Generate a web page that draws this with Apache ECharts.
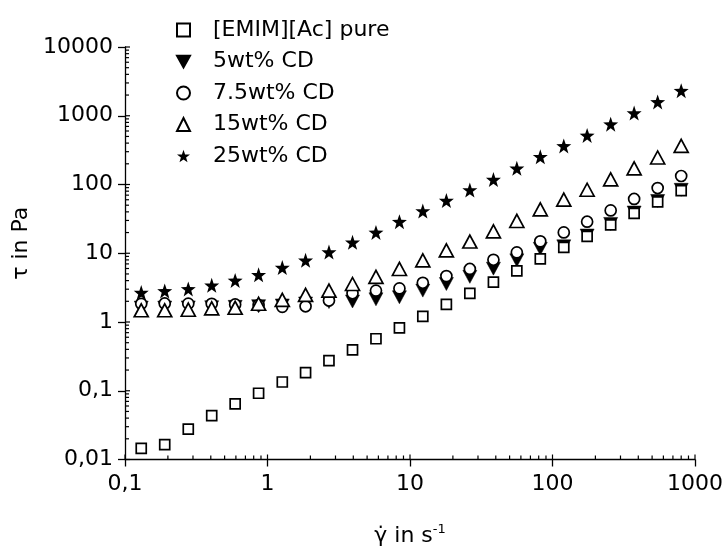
<!DOCTYPE html>
<html>
<head>
<meta charset="utf-8">
<script src="https://cdn.jsdelivr.net/npm/echarts@6/dist/echarts.min.js"></script>
<style>
html,body{margin:0;padding:0;background:#fff;}
#chart{width:727px;height:552px;}
</style>
</head>
<body>
<div id="chart"></div>
<script>
// shear rate (1/s)
const shearRate = [0.130, 0.190, 0.278, 0.406, 0.593, 0.866, 1.27, 1.85, 2.70, 3.95, 5.77, 8.43,
  12.3, 18.0, 26.3, 38.5, 56.2, 82.1, 120, 175, 256, 374, 547, 800];
// shear stress (Pa) per sample
const pureValues = [0.0145, 0.0165, 0.0277, 0.0435, 0.0646, 0.092, 0.134, 0.184, 0.274, 0.394, 0.571, 0.822,
  1.21, 1.80, 2.61, 3.81, 5.53, 8.31, 12.2, 17.6, 25.9, 38.0, 55.9, 81.3];
const cd5Values = [1.62, 1.62, 1.63, 1.64, 1.66, 1.70, 1.74, 1.86, 1.95, 1.99, 2.14, 2.29,
  2.86, 3.57, 4.54, 5.97, 7.89, 11.6, 12.6, 18.1, 26.7, 39.1, 57.6, 83.7];
const cd75Values = [1.84, 1.86, 1.85, 1.84, 1.80, 1.76, 1.66, 1.69, 2.05, 2.62, 2.86, 3.08,
  3.72, 4.65, 5.91, 8.03, 10.3, 14.9, 20.1, 28.8, 42.0, 61.7, 88.7, 133];
const cd15Values = [1.48, 1.48, 1.51, 1.58, 1.61, 1.84, 2.10, 2.48, 2.86, 3.57, 4.54, 5.91,
  7.89, 11.0, 14.8, 20.8, 29.5, 43.4, 60.3, 83.9, 119, 172, 247, 364];
const cd25Values = [2.68, 2.83, 3.03, 3.41, 4.02, 4.85, 6.18, 7.89, 10.4, 14.4, 20.1, 28.8,
  41.1, 58.3, 83.1, 118, 172, 253, 364, 517, 753, 1094, 1589, 2312];

const seriesNames = ['[EMIM][Ac] pure', '5wt% CD', '7.5wt% CD', '15wt% CD', '25wt% CD'];

const xTickValues = [0.1, 1, 10, 100, 1000];
const xTickLabels = ['0,1', '1', '10', '100', '1000'];
const yTickValues = [0.01, 0.1, 1, 10, 100, 1000, 10000];
const yTickLabels = ['0,01', '0,1', '1', '10', '100', '1000', '10000'];
const minorMultipliers = [2, 3, 4, 5, 6, 7, 8, 9];

function labelFor(values, labels) {
  return function (v) {
    for (let i = 0; i < values.length; i++) {
      if (Math.abs(Math.log10(values[i]) - Math.log10(v)) < 1e-6) return labels[i];
    }
    return '';
  };
}

// tick positions (axis decoration)
const xMinor = [];
xTickValues.slice(0, -1).forEach(d => minorMultipliers.forEach(m => xMinor.push([d * m, 0.01, 4])));
xTickValues.forEach(d => xMinor.push([d, 0.01, 5]));
const yMinor = [];
yTickValues.slice(0, -1).forEach(d => minorMultipliers.forEach(m => yMinor.push([0.1, d * m, 4])));
yTickValues.forEach(d => yMinor.push([0.1, d, 5]));

const FONT = 'DejaVu Sans';
const openStyle = {color: '#ffffff', borderColor: '#000', borderWidth: 1.7, opacity: 1};
const STAR = 'path://M0,-100L23.5,-32.4L95.1,-30.9L38,12.4L58.8,80.9L0,40L-58.8,80.9L-38,12.4L-95.1,-30.9L-23.5,-32.4Z';
const DOWN_TRI = 'path://M0,0L100,0L50,90Z';

function pairs(vals) { return shearRate.map((x, i) => [x, vals[i]]); }

const chart = echarts.init(document.getElementById('chart'), null, {renderer: 'canvas'});
chart.setOption({
  animation: false,
  backgroundColor: '#fff',
  grid: {left: 125, right: 32, top: 47, bottom: 86, containLabel: false},
  legend: {
    orient: 'vertical', left: 171, top: 14, itemWidth: 13, itemHeight: 13, itemGap: 9.5,
    data: [
      {name: seriesNames[0]},
      {name: seriesNames[1], icon: DOWN_TRI},
      {name: seriesNames[2]},
      {name: seriesNames[3]},
      {name: seriesNames[4]}
    ],
    textStyle: {fontSize: 22, fontFamily: FONT, color: '#000', padding: [0, 0, 0, 18]},
    selectedMode: false
  },
  xAxis: {
    type: 'log', logBase: 10, min: 0.1, max: 1000,
    axisLine: {show: true, onZero: false, lineStyle: {color: '#000', width: 1.3}},
    axisTick: {show: true, length: 7, lineStyle: {color: '#000', width: 1.3}},
    splitLine: {show: false},
    axisLabel: {margin: 14, fontSize: 22, fontFamily: FONT, color: '#000', formatter: labelFor(xTickValues, xTickLabels)},
    name: 'γ\u0307 in s{sup|-1}', nameLocation: 'middle', nameGap: 64,
    nameTextStyle: {fontSize: 22, fontFamily: FONT, color: '#000',
      rich: {sup: {fontSize: 13, fontFamily: FONT, color: '#000', verticalAlign: 'top', padding: [0, 0, 12, 0]}}}
  },
  yAxis: {
    type: 'log', logBase: 10, min: 0.01, max: 10000,
    axisLine: {show: true, onZero: false, lineStyle: {color: '#000', width: 1.3}},
    axisTick: {show: true, length: 7, lineStyle: {color: '#000', width: 1.3}},
    splitLine: {show: false},
    axisLabel: {margin: 12, fontSize: 22, fontFamily: FONT, color: '#000', formatter: labelFor(yTickValues, yTickLabels)},
    name: 'τ in Pa', nameLocation: 'middle', nameGap: 82,
    nameTextStyle: {fontSize: 22, fontFamily: FONT, color: '#000', padding: [0, 0, 0, 20]}
  },
  series: [
    {
      name: seriesNames[1], type: 'scatter', data: pairs(cd5Values), symbol: 'triangle', symbolRotate: 180,
      symbolSize: [14, 13], itemStyle: {color: '#000', borderColor: '#000', borderWidth: 0.5, opacity: 1}, z: 2
    },
    {
      name: seriesNames[0], type: 'scatter', data: pairs(pureValues), symbol: 'rect',
      symbolSize: 10, itemStyle: openStyle, z: 3
    },
    {
      name: seriesNames[2], type: 'scatter', data: pairs(cd75Values), symbol: 'circle',
      symbolSize: 11, itemStyle: openStyle, z: 4
    },
    {
      name: seriesNames[3], type: 'scatter', data: pairs(cd15Values), symbol: 'triangle',
      symbolSize: [14, 13], itemStyle: openStyle, z: 5
    },
    {
      name: seriesNames[4], type: 'scatter', data: pairs(cd25Values), symbol: STAR,
      symbolSize: 15, itemStyle: {color: '#000', opacity: 1}, z: 6
    },
    {
      type: 'custom', silent: true, z: 10, clip: false, data: xMinor,
      renderItem: function (params, api) {
        const p = api.coord([api.value(0), api.value(1)]);
        const len = api.value(2);
        return {type: 'line', shape: {x1: p[0], y1: p[1], x2: p[0], y2: p[1] - len}, style: {stroke: '#000', lineWidth: 1.2}};
      }
    },
    {
      type: 'custom', silent: true, z: 10, clip: false, data: yMinor,
      renderItem: function (params, api) {
        const p = api.coord([api.value(0), api.value(1)]);
        const len = api.value(2);
        return {type: 'line', shape: {x1: p[0], y1: p[1], x2: p[0] + len, y2: p[1]}, style: {stroke: '#000', lineWidth: 1.2}};
      }
    }
  ]
});
</script>
</body>
</html>
